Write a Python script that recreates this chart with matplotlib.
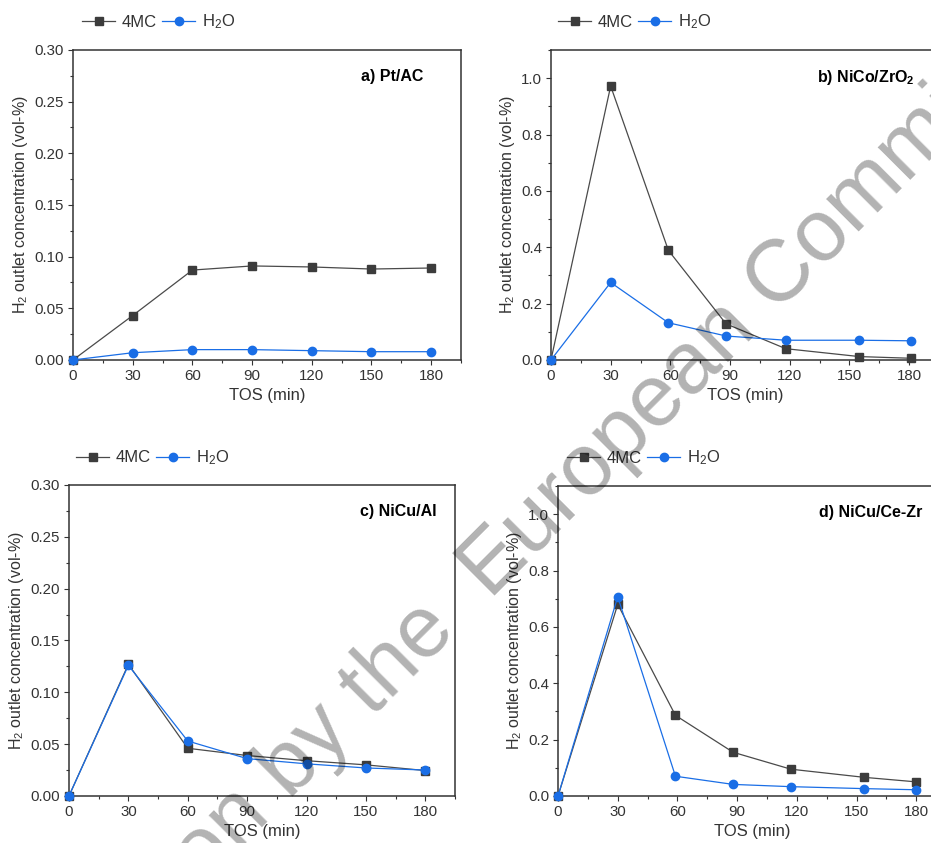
import matplotlib
matplotlib.use('Agg')
import matplotlib.pyplot as plt
from matplotlib.ticker import MultipleLocator

plt.rcParams['font.family'] = ['Liberation Sans', 'DejaVu Sans']
plt.rcParams['mathtext.default'] = 'regular'
plt.rcParams['font.size'] = 10

## data
tos = [0, 30, 60, 90, 120, 150, 180]

# a) Pt/AC
a_4mc = [0.0, 0.043, 0.087, 0.091, 0.090, 0.088, 0.089]
a_h2o = [0.0, 0.007, 0.010, 0.010, 0.009, 0.008, 0.008]

# b) NiCo/ZrO2 (sampling times a bit off the grid)
b_tos = [0, 30, 59, 88, 118, 155, 181]
b_4mc = [0.0, 0.972, 0.389, 0.128, 0.040, 0.012, 0.006]
b_h2o = [0.0, 0.275, 0.132, 0.085, 0.070, 0.070, 0.068]

# c) NiCu/Al
c_4mc = [0.0, 0.127, 0.046, 0.039, 0.034, 0.030, 0.0245]
c_h2o = [0.0, 0.126, 0.053, 0.036, 0.031, 0.027, 0.025]

# d) NiCu/Ce-Zr
d_tos = [0, 30, 59, 88, 117, 154, 180]
d_4mc = [0.0, 0.680, 0.286, 0.155, 0.095, 0.066, 0.050]
d_h2o = [0.0, 0.707, 0.070, 0.041, 0.033, 0.026, 0.022]

panels = [
    ('a) Pt/AC', tos, a_4mc, a_h2o, 0.30, 0.05, 0.025, '%.2f'),
    ('b) NiCo/ZrO$_2$', b_tos, b_4mc, b_h2o, 1.1, 0.2, 0.1, '%.1f'),
    ('c) NiCu/Al', tos, c_4mc, c_h2o, 0.30, 0.05, 0.025, '%.2f'),
    ('d) NiCu/Ce-Zr', d_tos, d_4mc, d_h2o, 1.1, 0.2, 0.1, '%.1f'),
]

# axes boxes in figure fractions (left, bottom, width, height)
boxes = [
    (0.0784, 0.5730, 0.4168, 0.3677),
    (0.5918, 0.5730, 0.4168, 0.3677),
    (0.0741, 0.0558, 0.4146, 0.3690),
    (0.5994, 0.0558, 0.4168, 0.3677),
]
labelpos = [(0.902, 0.916), (0.938, 0.91), (0.953, 0.913), (0.94, 0.913)]
legpos = [(0.023, 1.09), (0.018, 1.09), (0.018, 1.087), (0.023, 1.09)]

grey = '#3c3c3c'
lgrey = '#4a4a4a'
blue = '#1a6ee6'
txt = '#333333'

fig = plt.figure(figsize=(9.31, 8.43), dpi=100)

for i, (name, x, y1, y2, ymax, maj, mnr, fmt) in enumerate(panels):
    ax = fig.add_axes(boxes[i])
    ax.plot(x, y1, color=lgrey, lw=0.9, marker='s', ms=5.5, mfc=grey, mec=grey, label='4MC', clip_on=False, zorder=3)
    ax.plot(x, y2, color=blue, lw=0.9, marker='o', ms=6, mfc=blue, mec=blue, label='H$_2$O', clip_on=False, zorder=4)
    ax.set_xlim(0, 195)
    ax.set_ylim(0, ymax)
    ax.xaxis.set_major_locator(MultipleLocator(30))
    ax.xaxis.set_minor_locator(MultipleLocator(15))
    ax.yaxis.set_major_locator(MultipleLocator(maj))
    ax.yaxis.set_minor_locator(MultipleLocator(mnr))
    ax.yaxis.set_major_formatter(plt.FormatStrFormatter(fmt))
    ax.tick_params(which='major', direction='out', length=3.8, width=0.8, labelsize=10.8, pad=2.5,
                   colors=txt, labelcolor=txt)
    ax.tick_params(which='minor', direction='out', length=2.3, width=0.8, colors=txt)
    for s in ax.spines.values():
        s.set_linewidth(1.1)
        s.set_color(txt)
    ax.set_xlabel('TOS (min)', fontsize=12, color=txt, labelpad=4)
    ax.set_ylabel('H$_2$ outlet concentration (vol-%)', fontsize=11.5, color=txt, labelpad=3)
    ax.text(labelpos[i][0], labelpos[i][1], name, transform=ax.transAxes, ha='right', va='center',
            fontsize=11.5, fontweight='bold')
    ax.legend(loc='center left', bbox_to_anchor=legpos[i], ncol=2, frameon=False, fontsize=12,
              handlelength=2.0, handletextpad=0.4, columnspacing=0.3, borderaxespad=0, borderpad=0,
              labelcolor=txt)

# watermark across the figure, in two pieces that meet at the "E"
wm = dict(fontsize=63, color='black', alpha=0.3, rotation=45, rotation_mode='anchor',
          va='baseline', zorder=10)
fig.text(0.5263, 0.2883, 'European Commission', ha='left', **wm)
fig.text(0.4919, 0.2503, 'on by the', ha='right', **wm)

fig.savefig('out.png', dpi=100)
